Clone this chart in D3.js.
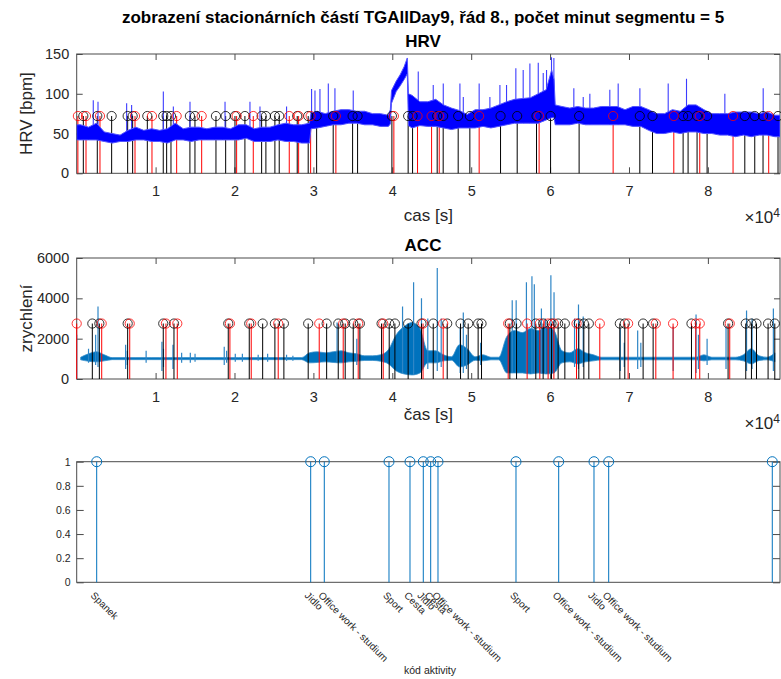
<!DOCTYPE html>
<html><head><meta charset="utf-8">
<script src="https://cdn.jsdelivr.net/npm/d3@7"></script>
<style>
body{margin:0;background:#fff}
text{font-family:"Liberation Sans",Arial,Helvetica,sans-serif;fill:#262626}
</style></head>
<body><svg id="c" width="781" height="679"></svg>
<script>
// ---------------- DATA ----------------
const xMaxSec = 89140;            // end of recording [s]
const timeTicks = [10000,20000,30000,40000,50000,60000,70000,80000];
const timeTickLabels = ["1","2","3","4","5","6","7","8"];

// HRV envelope (bpm) at the given times
const hrvT = [0,500,1500,2500,3500,4500,5500,6500,7500,8500,9500,10500,11500,12500,13500,14500,15500,16500,17500,18500,
  19500,20500,21500,22500,23500,24500,25500,26500,27500,28500,29500,29700,30500,31500,32500,33500,34500,35500,36500,37500,
  38500,39500,39750,39900,40500,41000,41500,41900,42050,42500,43500,44500,45500,46500,47500,48500,49500,50500,51500,52500,
  53500,54500,55500,56500,57500,58500,59500,60200,60500,60650,61500,62500,63500,64500,65500,66500,67500,68500,69500,70500,
  71500,72500,73500,74500,75500,76500,77500,78500,79500,80500,81500,82500,83500,84500,85500,86500,87500,88500,89140];
const hrvLow = [42,42,42,42,40,38,40,40,42,42,40,40,38,42,42,40,42,42,42,42,
  42,42,44,40,40,40,42,40,40,38,38,56,57,59,61,61,63,63,61,61,
  59,59,62,88,103,110,118,125,60,57,60,59,59,57,55,57,57,57,59,57,
  59,61,63,63,63,63,67,70,70,61,61,61,63,61,61,61,61,61,61,59,
  59,54,50,50,52,50,52,52,50,50,48,48,46,48,46,48,48,46,46];
const hrvHigh = [61,61,58,63,52,50,48,54,58,54,56,54,56,63,56,58,58,56,58,58,
  56,61,61,56,58,58,61,63,61,61,63,76,78,75,78,80,80,78,78,75,
  75,73,80,104,116,124,134,145,100,98,90,90,93,86,82,79,74,80,80,82,
  86,90,93,94,95,100,105,130,118,86,84,82,84,82,82,84,84,84,80,84,
  84,80,75,75,80,78,86,86,80,75,75,75,77,77,77,75,77,73,73];
const hrvSpikeT = [2100,2700,6330,6960,10980,12250,14360,18800,21960,23230,26600,29770,30200,30830,31890,32730,35050,
                   43290,45190,46460,48570,49000,51010,52370,53640,54480,55660,56590,57440,58500,59130,59550,60180,60480,
                   63010,64200,65040,67570,68630,71380,74970,77290,82150,87010];
const hrvSpikeV = [92,90,88,86,103,84,90,90,90,84,84,106,104,106,113,107,104,
                   128,111,113,113,96,113,96,111,111,132,130,138,139,126,130,146,145,
                   107,96,100,105,113,107,113,119,100,107];

// ACC envelope per 1000 s bin (dense parts)
const accBinSec = 1000;
const accLow  = [950,880,850,900,960,960,960,960,960,960,960,960,960,960,960,960,960,960,960,960,960,960,960,960,960,960,960,960,960,800,
                 820,850,820,800,850,880,920,920,880,750,400,250,200,300,800,800,900,930,600,700,930,900,950,950,300,300,300,250,300,250,
                 300,800,850,750,850,900,950,950,950,950,950,950,950,950,950,950,950,950,950,900,950,950,950,950,900,750,920,950,850];
const accHigh = [1080,1250,1350,1200,1060,1060,1060,1060,1060,1060,1060,1060,1060,1060,1060,1060,1060,1060,1060,1060,1060,1060,1060,1060,1060,1060,1060,1060,1060,1300,
                 1350,1300,1350,1400,1300,1250,1150,1150,1200,1450,2200,2600,2800,2500,1400,1400,1200,1100,1700,1500,1100,1200,1080,1080,2100,2400,2300,2500,2400,2600,
                 2400,1400,1300,1500,1300,1200,1080,1080,1080,1080,1080,1080,1080,1080,1080,1080,1080,1080,1080,1200,1080,1080,1080,1080,1200,1500,1150,1080,1300];
// individual bursts: time, bottom, top
const accSpikeT  = [0,1500,2400,2700,6200,6400,8800,10800,11000,12200,13300,14400,15000,18700,19000,20100,21000,23000,24200,26600,
                    27400,33000,35500,41300,42700,43700,44500,45700,46200,48600,49000,49400,51200,55200,55700,57000,57700,58000,58900,59400,
                    60100,60500,63100,63600,64200,68900,69400,71100,71500,75600,78500,78800,79900,82300,84900,85600,88300];
const accSpikeLo = [0,800,700,600,500,700,800,400,600,500,800,800,850,700,800,850,850,900,850,900,
                    900,800,700,300,200,300,500,400,600,300,300,500,700,300,300,300,300,300,300,300,
                    300,300,600,500,600,400,600,500,600,400,300,500,700,500,400,500,400];
const accSpikeHi = [2200,1500,2200,3600,1700,1400,1400,1850,1500,1700,1300,1300,1250,1600,1400,1250,1250,1200,1250,1200,
                    1150,2800,2000,3600,4800,4000,3000,5500,3000,2500,3300,2200,1800,3900,3900,4800,5100,4700,3500,3000,
                    5150,4300,3000,3700,3100,2500,1800,2400,1800,2600,3200,2200,2000,2600,3400,3000,3500];

// segment boundaries (stationary parts)
const hrvMarkLevel = 72;
const hrvBlackT = [840,2610,4430,6460,7090,8950,10970,11400,11950,14350,14990,17650,18880,20060,21320,23440,23980,25120,25670,
                   27950,29340,30410,32510,34970,35600,39950,42010,42570,45690,46450,48350,49830,53720,55830,58280,60060,63680,
                   71370,72980,76860,77490,78630,79900,84680,85940,86990,88890];
const hrvRedT   = [150,1180,2950,7390,9540,12670,15840,20270,22380,26940,28130,29650,32850,40200,43200,44980,45950,51010,58610,
                   67990,75680,78970,83190,87710];
const accMarkLevel = 2750;
const accBlackT = [1980,2870,6460,10970,12330,19210,21870,23570,25120,26260,29340,31680,33150,34030,35050,35890,38640,39610,40330,
                   42010,43700,45190,46960,48650,49620,50880,51310,54900,55750,58190,59120,60180,61020,61870,63640,64280,64910,
                   68840,69470,71790,73060,77920,82560,84800,85520,86160,87630,88480];
const accRedT   = [0,3170,6720,11310,12750,19420,22120,25540,30740,33780,35680,38850,43900,46450,54690,57090,58700,59750,60480,
                   63350,66300,69890,73400,75590,78460,78970,82770];

// activity codes
const activityT = [2535,29658,31381,39582,42243,43929,44867,45792,55678,61090,65564,67427,88162];
const activityLabels = ["Spanek","Jidlo","Office work - studium","Sport","Cesta","Jidlo","Cesta","Office work - studium",
                        "Sport","Office work - studium","Jidlo","Office work - studium",""];
const activityValue = [1,1,1,1,1,1,1,1,1,1,1,1,1];

const hrvYTicks = [0,50,100,150];
const accYTicks = [0,2000,4000,6000];
const codeYTicks = [0,0.2,0.4,0.6,0.8,1];

// ---------------- DRAWING ----------------
const svg = d3.select("#c");
const L = 76.7, R = 780;
const x = d3.scaleLinear().domain([0, xMaxSec]).range([L, R]);
const AX = "#262626", BOX = "#4a4a4a";

svg.append("text").attr("x", 423).attr("y", 23).attr("text-anchor","middle")
  .style("font-weight","bold").style("font-size","17px").style("fill","#000")
  .text("zobrazení stacionárních částí TGAllDay9, řád 8., počet minut segmentu = 5");

function frame(top, bottom) {
  const g = svg.append("g");
  g.append("rect").attr("x", L).attr("y", top).attr("width", R-L).attr("height", bottom-top)
    .attr("fill","none").attr("stroke",BOX).attr("stroke-width",1);
  return g;
}
function styleAxis(sel, fs) {
  sel.select(".domain").remove();
  sel.selectAll(".tick line").attr("stroke", BOX);
  sel.selectAll(".tick text").style("font-size", fs + "px").attr("fill", AX);
}

function timePanel(top, bottom, yMax, yTicks, title, ylabel, xlabel, xlabelY, expY) {
  const y = d3.scaleLinear().domain([0, yMax]).range([bottom, top]);
  const g = frame(top, bottom);
  g.append("g").attr("transform", `translate(0,${bottom})`)
    .call(d3.axisBottom(x).tickValues(timeTicks).tickFormat((d,i)=>timeTickLabels[i]).tickSize(-6).tickSizeOuter(0).tickPadding(12.5))
    .call(s=>styleAxis(s,14.5));
  g.append("g").attr("transform", `translate(0,${top})`)
    .call(d3.axisTop(x).tickValues(timeTicks).tickFormat("").tickSize(-6).tickSizeOuter(0))
    .call(s=>styleAxis(s,14.5));
  g.append("g").attr("transform", `translate(${L},0)`)
    .call(d3.axisLeft(y).tickValues(yTicks).tickFormat(d3.format("d")).tickSize(-6).tickSizeOuter(0).tickPadding(7.5))
    .call(s=>styleAxis(s,14.5));
  g.append("g").attr("transform", `translate(${R},0)`)
    .call(d3.axisRight(y).tickValues(yTicks).tickFormat("").tickSize(-6).tickSizeOuter(0))
    .call(s=>styleAxis(s,14.5));
  svg.append("text").attr("x", 423).attr("y", top - 7.5).attr("text-anchor","middle")
    .style("font-weight","bold").style("font-size","17px").style("fill","#000").text(title);
  svg.append("text").attr("transform", `translate(32,${(top+bottom)/2}) rotate(-90)`).attr("text-anchor","middle")
    .style("font-size","17px").text(ylabel);
  svg.append("text").attr("x", (L+R)/2).attr("y", xlabelY).attr("text-anchor","middle")
    .style("font-size","17px").text(xlabel);
  const e = svg.append("text").attr("x", R).attr("y", expY).attr("text-anchor","end").style("font-size","17px");
  e.append("tspan").text("×10");
  e.append("tspan").attr("dy", -6).style("font-size","12px").text("4");
  return y;
}

function clip(n, top, bottom){
  svg.append("clipPath").attr("id", "clip"+n).append("rect")
    .attr("x", L).attr("y", top).attr("width", R-L).attr("height", bottom-top);
}
function stems(y, times, level, color) {
  svg.append("g").selectAll("line").data(times).join("line")
    .attr("x1", d=>x(d)).attr("x2", d=>x(d)).attr("y1", y(0)).attr("y2", y(level))
    .attr("stroke", color).attr("stroke-width", 1);
}
function rings(y, times, level, color) {
  svg.append("g").selectAll("circle").data(times).join("circle")
    .attr("cx", d=>x(d)).attr("cy", y(level)).attr("r", 4.6)
    .attr("fill","none").attr("stroke", color).attr("stroke-width", 0.8);
}

// ---- HRV ----
const hrvTop = 54, hrvBot = 173.3;
const yH = timePanel(hrvTop, hrvBot, 150, hrvYTicks, "HRV", "HRV [bpm]", "cas [s]", 221, 223);
stems(yH, hrvBlackT, hrvMarkLevel, "#000");
stems(yH, hrvRedT, hrvMarkLevel, "#ff0000");
clip(1, hrvTop, hrvBot);
{
  const g = svg.append("g").attr("clip-path","url(#clip1)");
  const lowAt = d3.scaleLinear().domain(hrvT).range(hrvLow);
  g.selectAll("line").data(hrvSpikeT).join("line")
    .attr("x1", d=>x(d)).attr("x2", d=>x(d)).attr("y1", d=>yH(lowAt(d)))
    .attr("y2", (d,i)=>yH(hrvSpikeV[i])).attr("stroke","#3c3cff").attr("stroke-width",1.1);
  const pts = hrvT.map((t,i)=>({t, lo:hrvLow[i], hi:hrvHigh[i]}));
  g.append("path").datum(pts)
    .attr("d", d3.area().x(d=>x(d.t)).y0(d=>yH(d.lo)).y1(d=>yH(d.hi)))
    .attr("fill","#0000ff").attr("stroke","#5252ff").attr("stroke-width",1);
}
rings(yH, hrvBlackT, hrvMarkLevel, "#000");
rings(yH, hrvRedT, hrvMarkLevel, "#ff0000");

// ---- ACC ----
const accTop = 258, accBot = 379;
const yA = timePanel(accTop, accBot, 6000, accYTicks, "ACC", "zrychlení", "čas [s]", 420, 429);
clip(2, accTop, accBot);
{
  const g = svg.append("g").attr("clip-path","url(#clip2)");
  const pts = accLow.map((v,i)=>({t:(i+0.5)*accBinSec, lo:v, hi:accHigh[i]}));
  g.append("path").datum(pts)
    .attr("d", d3.area().curve(d3.curveMonotoneX).x(d=>x(d.t)).y0(d=>yA(d.lo)).y1(d=>yA(d.hi)))
    .attr("fill","#0072BD").attr("stroke","#3a90cc").attr("stroke-width",0.8);
  g.selectAll("line").data(accSpikeT).join("line")
    .attr("x1", d=>x(d)).attr("x2", d=>x(d))
    .attr("y1", (d,i)=>yA(accSpikeLo[i])).attr("y2", (d,i)=>yA(accSpikeHi[i]))
    .attr("stroke","#2f86c6").attr("stroke-width",1.2);
}
stems(yA, accBlackT, accMarkLevel, "#000");
stems(yA, accRedT, accMarkLevel, "#ff0000");
rings(yA, accBlackT, accMarkLevel, "#000");
rings(yA, accRedT, accMarkLevel, "#ff0000");

// ---- activity codes ----
const cTop = 461.7, cBot = 582.3;
const yC = d3.scaleLinear().domain([0,1]).range([cBot, cTop]);
const gc = frame(cTop, cBot);
gc.append("g").attr("transform", `translate(${L},0)`)
  .call(d3.axisLeft(yC).tickValues(codeYTicks).tickFormat(d=>d===0||d===1?d3.format("d")(d):d3.format(".1f")(d)).tickSize(-7).tickSizeOuter(0).tickPadding(6))
  .call(s=>styleAxis(s,10.5));
gc.append("g").attr("transform", `translate(${R},0)`)
  .call(d3.axisRight(yC).tickValues(codeYTicks).tickFormat("").tickSize(-7).tickSizeOuter(0))
  .call(s=>styleAxis(s,10.5));
gc.selectAll("line.stem").data(activityT).join("line").attr("class","stem")
  .attr("x1", d=>x(d)).attr("x2", d=>x(d)).attr("y1", yC(0)).attr("y2", (d,i)=>yC(activityValue[i]))
  .attr("stroke","#0072BD").attr("stroke-width",1);
gc.selectAll("circle").data(activityT).join("circle")
  .attr("cx", d=>x(d)).attr("cy", (d,i)=>yC(activityValue[i])).attr("r", 5)
  .attr("fill","none").attr("stroke","#0072BD").attr("stroke-width",1);
gc.selectAll("text.cat").data(activityT).join("text").attr("class","cat")
  .attr("transform", d=>`translate(${x(d)-1.5},591) rotate(45)`)
  .attr("dy","0.72em").style("font-size","10px").attr("fill","#333")
  .text((d,i)=>activityLabels[i]);
svg.append("text").attr("x", 430).attr("y", 674).attr("text-anchor","middle")
  .style("font-size","10.5px").text("kód aktivity");
</script>
</body></html>
